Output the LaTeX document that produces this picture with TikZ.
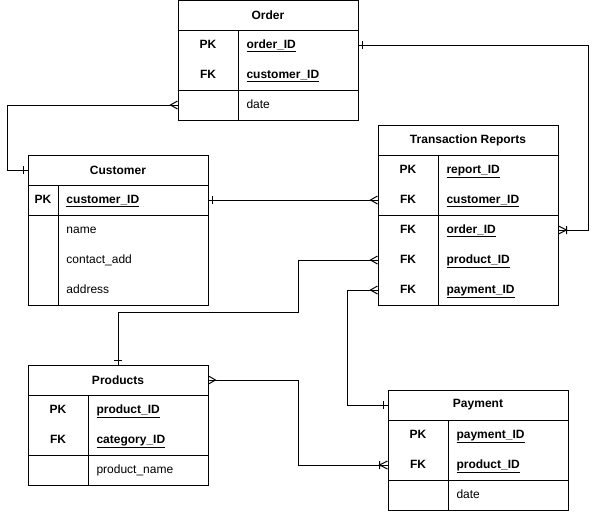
\documentclass[tikz,border=0pt]{standalone}
\usepackage{fontspec}
\setmainfont{Liberation Sans}
\usetikzlibrary{decorations.markings}

\tikzset{
  head/.style={draw, minimum width=180pt, minimum height=30pt, inner sep=0pt,
    font=\fontsize{12}{14}\selectfont\bfseries},
  key/.style={inner sep=0pt, text height=8.6pt, text depth=2.5pt,
    font=\fontsize{12}{14}\selectfont\bfseries},
  field/.style={anchor=west, inner sep=0pt, text height=8.6pt, text depth=2.5pt},
  idfield/.style={field, font=\fontsize{12}{14}\selectfont\bfseries},
  one start/.style={postaction={decorate, decoration={markings,
    mark=at position 4pt with {\draw (0pt,-4pt) -- (0pt,4pt);}}}},
  many start/.style={postaction={decorate, decoration={markings,
    mark=at position 7pt with {\draw (-7pt,-4pt) -- (0pt,0pt) -- (-7pt,4pt);}}}},
  many end/.style={postaction={decorate, decoration={markings,
    mark=at position -7pt with {\draw (7pt,-4pt) -- (0pt,0pt) -- (7pt,4pt);}}}},
  onemany end/.style={postaction={decorate, decoration={markings,
    mark=at position -8pt with {\draw (8pt,-4pt) -- (0pt,0pt) -- (8pt,4pt) (0pt,-4pt) -- (0pt,4pt);}}}}
}

\begin{document}
\begin{tikzpicture}[x=1pt, y=-1pt, line width=1pt, font=\fontsize{12}{14}\selectfont]
  \useasboundingbox (0,0) rectangle (598,512);

  % Nodes
  % Order
  \node[head] (order) at (268,15) {Order};
  \draw (178,30) rectangle (358,120);
  \draw (178,90) -- (358,90) (238,30) -- (238,120);
  \node[key] (orderpk) at (208,45) {PK};
  \node[idfield] (orderid) at (246,45) {\underline{order\_ID}};
  \node[key] (orderfk) at (208,75) {FK};
  \node[idfield] (ordercust) at (246,75) {\underline{customer\_ID}};
  \node[field] (orderdate) at (246,105) {date};

  % Customer
  \node[head] (customer) at (118,170) {Customer};
  \draw (28,185) rectangle (208,305);
  \draw (28,215) -- (208,215) (58,185) -- (58,305);
  \node[key] (custpk) at (43,200) {PK};
  \node[idfield] (custid) at (66,200) {\underline{customer\_ID}};
  \node[field] (custname) at (66,230) {name};
  \node[field] (custcontact) at (66,260) {contact\_add};
  \node[field] (custaddr) at (66,290) {address};

  % Transaction Reports
  \node[head] (trans) at (468,140) {Transaction Reports};
  \draw (378,155) rectangle (558,305);
  \draw (378,215) -- (558,215) (438,155) -- (438,305);
  \node[key] (trpk) at (408,170) {PK};
  \node[idfield] (trid) at (446,170) {\underline{report\_ID}};
  \node[key] (trfk1) at (408,200) {FK};
  \node[idfield] (trcust) at (446,200) {\underline{customer\_ID}};
  \node[key] (trfk2) at (408,230) {FK};
  \node[idfield] (trorder) at (446,230) {\underline{order\_ID}};
  \node[key] (trfk3) at (408,260) {FK};
  \node[idfield] (trprod) at (446,260) {\underline{product\_ID}};
  \node[key] (trfk4) at (408,290) {FK};
  \node[idfield] (trpay) at (446,290) {\underline{payment\_ID}};

  % Products
  \node[head] (products) at (118,380) {Products};
  \draw (28,395) rectangle (208,485);
  \draw (28,455) -- (208,455) (88,395) -- (88,485);
  \node[key] (prodpk) at (58,410) {PK};
  \node[idfield] (prodid) at (96,410) {\underline{product\_ID}};
  \node[key] (prodfk) at (58,440) {FK};
  \node[idfield] (prodcat) at (96,440) {\underline{category\_ID}};
  \node[field] (prodname) at (96,470) {product\_name};

  % Payment
  \node[head] (payment) at (478,405) {Payment};
  \draw (388,420) rectangle (568,510);
  \draw (388,480) -- (568,480) (448,420) -- (448,510);
  \node[key] (paypk) at (418,435) {PK};
  \node[idfield] (payid) at (456,435) {\underline{payment\_ID}};
  \node[key] (payfk) at (418,465) {FK};
  \node[idfield] (payprod) at (456,465) {\underline{product\_ID}};
  \node[field] (paydate) at (456,495) {date};

  % Edges
  \draw[one start, many end] (customer.west) -- ++(-20,0) |- (orderdate -| order.west);
  \draw[one start, many end] (custid -| customer.east) -- (trcust -| trans.west);
  \draw[one start, onemany end] (orderid -| order.east) -- ++(230,0) |- (trorder -| trans.east);
  \draw[one start, many end] (products.north) -- ++(0,-52) -- ++(180,0) |- (trprod -| trans.west);
  \draw[one start, many end] (payment.west) -- ++(-40,0) |- (trpay -| trans.west);
  \draw[many start, onemany end] (products.east) -- ++(90,0) |- (payprod -| payment.west);

\end{tikzpicture}
\end{document}
